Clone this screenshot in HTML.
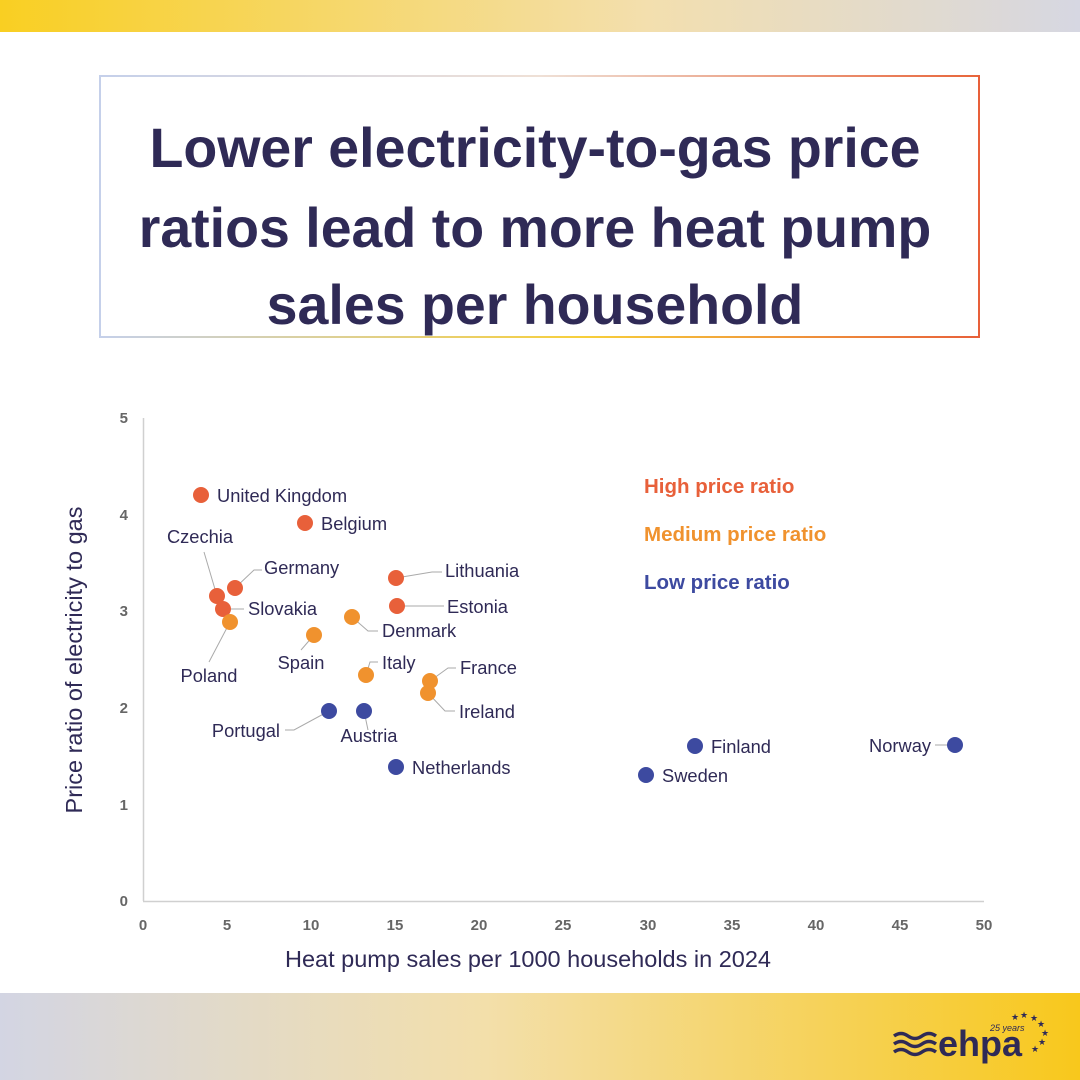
<!DOCTYPE html>
<html><head><meta charset="utf-8"><style>
html,body{margin:0;padding:0;background:#fff}
svg{display:block}
text{font-family:"Liberation Sans",sans-serif}
</style></head><body>
<svg width="1080" height="1080" viewBox="0 0 1080 1080" xmlns="http://www.w3.org/2000/svg">
<defs>
<linearGradient id="top" x1="0" x2="1"><stop offset="0" stop-color="#f9cf22"/><stop offset="0.6" stop-color="#f3dfae"/><stop offset="1" stop-color="#d6d7e2"/></linearGradient>
<linearGradient id="bot" x1="0" x2="1"><stop offset="0" stop-color="#d3d5e3"/><stop offset="0.45" stop-color="#f3dfaa"/><stop offset="1" stop-color="#f8c81c"/></linearGradient>
<linearGradient id="bt" x1="0" x2="1"><stop offset="0" stop-color="#c5d0ea"/><stop offset="0.5" stop-color="#efe0d6"/><stop offset="1" stop-color="#e8653a"/></linearGradient>
<linearGradient id="bb" x1="0" x2="1"><stop offset="0" stop-color="#c5d0ea"/><stop offset="0.55" stop-color="#f7cf3a"/><stop offset="1" stop-color="#e8603a"/></linearGradient>
</defs>
<rect x="0" y="0" width="1080" height="32" fill="url(#top)"/>
<rect x="0" y="993" width="1080" height="87" fill="url(#bot)"/>
<rect x="100" y="75" width="880" height="2" fill="url(#bt)"/>
<rect x="100" y="336" width="880" height="2" fill="url(#bb)"/>
<rect x="99" y="75" width="2" height="263" fill="#c5d0ea"/>
<rect x="978" y="75" width="2" height="263" fill="#e8603a"/>
<g font-size="55.5" font-weight="bold" fill="#2f2a56" text-anchor="middle">
<text x="535" y="167">Lower electricity-to-gas price</text>
<text x="535" y="247">ratios lead to more heat pump</text>
<text x="535" y="324">sales per household</text>
</g>
<line x1="143.5" y1="418" x2="143.5" y2="901" stroke="#d0d0d0" stroke-width="1.5"/>
<line x1="143" y1="901.5" x2="984" y2="901.5" stroke="#d0d0d0" stroke-width="1.5"/>
<g font-size="15" font-weight="bold" fill="#666" text-anchor="end">
<text x="128" y="906">0</text><text x="128" y="810">1</text><text x="128" y="713">2</text><text x="128" y="616">3</text><text x="128" y="520">4</text><text x="128" y="423">5</text>
</g>
<g font-size="15" font-weight="bold" fill="#666" text-anchor="middle">
<text x="143" y="930">0</text><text x="227" y="930">5</text><text x="311" y="930">10</text><text x="395" y="930">15</text><text x="479" y="930">20</text><text x="563" y="930">25</text><text x="648" y="930">30</text><text x="732" y="930">35</text><text x="816" y="930">40</text><text x="900" y="930">45</text><text x="984" y="930">50</text>
</g>
<text x="528" y="967" font-size="23.5" fill="#2f2a56" text-anchor="middle">Heat pump sales per 1000 households in 2024</text>
<text transform="translate(82,660) rotate(-90)" font-size="23.5" fill="#2f2a56" text-anchor="middle">Price ratio of electricity to gas</text>
<g stroke="#aaa" stroke-width="1" fill="none">
<polyline points="217,596 204,552"/>
<polyline points="235,588 254,570 262,570"/>
<polyline points="223,609 244,609"/>
<polyline points="230,622 209,662"/>
<polyline points="314,635 301,650"/>
<polyline points="352,617 368,631 378,631"/>
<polyline points="396,578 432,572 442,572"/>
<polyline points="397,606 444,606"/>
<polyline points="366,675 370,662 378,662"/>
<polyline points="430,681 448,668 456,668"/>
<polyline points="428,693 445,711 455,711"/>
<polyline points="329,711 294,730 285,730"/>
<polyline points="364,711 368,730"/>
<polyline points="955,745 935,745"/>
</g>
<g fill="#e8603a">
<circle cx="201" cy="495" r="8"/><circle cx="305" cy="523" r="8"/><circle cx="217" cy="596" r="8"/><circle cx="235" cy="588" r="8"/><circle cx="223" cy="609" r="8"/><circle cx="396" cy="578" r="8"/><circle cx="397" cy="606" r="8"/>
</g>
<g fill="#f0922e">
<circle cx="230" cy="622" r="8"/><circle cx="314" cy="635" r="8"/><circle cx="352" cy="617" r="8"/><circle cx="366" cy="675" r="8"/><circle cx="430" cy="681" r="8"/><circle cx="428" cy="693" r="8"/>
</g>
<g fill="#3d4aa0">
<circle cx="329" cy="711" r="8"/><circle cx="364" cy="711" r="8"/><circle cx="396" cy="767" r="8"/><circle cx="695" cy="746" r="8"/><circle cx="646" cy="775" r="8"/><circle cx="955" cy="745" r="8"/>
</g>
<g font-size="18.3" fill="#2f2a56">
<text x="217" y="502">United Kingdom</text>
<text x="321" y="530">Belgium</text>
<text x="200" y="543" text-anchor="middle">Czechia</text>
<text x="264" y="574">Germany</text>
<text x="248" y="615">Slovakia</text>
<text x="209" y="682" text-anchor="middle">Poland</text>
<text x="301" y="669" text-anchor="middle">Spain</text>
<text x="382" y="637">Denmark</text>
<text x="445" y="577">Lithuania</text>
<text x="447" y="613">Estonia</text>
<text x="382" y="669">Italy</text>
<text x="460" y="674">France</text>
<text x="459" y="718">Ireland</text>
<text x="280" y="737" text-anchor="end">Portugal</text>
<text x="369" y="742" text-anchor="middle">Austria</text>
<text x="412" y="774">Netherlands</text>
<text x="711" y="753">Finland</text>
<text x="662" y="782">Sweden</text>
<text x="931" y="752" text-anchor="end">Norway</text>
</g>
<g font-size="20.5" font-weight="bold">
<text x="644" y="493" fill="#e8603a">High price ratio</text>
<text x="644" y="541" fill="#f0922e">Medium price ratio</text>
<text x="644" y="589" fill="#3d4aa0">Low price ratio</text>
</g>
<g stroke="#2f2a56" stroke-width="3.5" fill="none">
<path d="M894,1036 q7,-5 14,0 t14,0 t14,0"/>
<path d="M894,1044 q7,-5 14,0 t14,0 t14,0"/>
<path d="M894,1052 q7,-5 14,0 t14,0 t14,0"/>
</g>
<text x="938" y="1056" font-size="36" font-weight="bold" fill="#2f2a56">ehpa</text>
<text x="990" y="1031" font-size="9" font-style="italic" fill="#2f2a56">25 years</text>
<g font-size="9" fill="#2f2a56">
<text x="1011" y="1020">★</text><text x="1020" y="1018">★</text><text x="1030" y="1021">★</text><text x="1037" y="1027">★</text><text x="1041" y="1036">★</text><text x="1038" y="1045">★</text><text x="1031" y="1052">★</text>
</g>
</svg>
</body></html>
